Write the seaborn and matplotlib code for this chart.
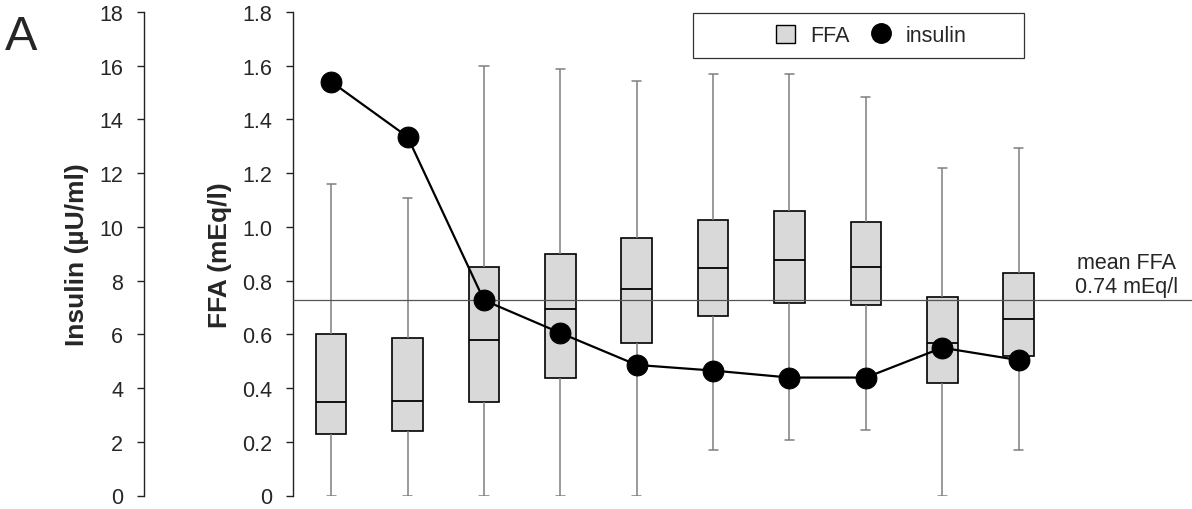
import numpy as np
import pandas as pd
import matplotlib
matplotlib.use('Agg')
import matplotlib.pyplot as plt
import seaborn as sns
from matplotlib.lines import Line2D
from matplotlib.patches import Patch, Rectangle

# values
groups = list(range(1, 11))
ffa_low = [0.0, 0.0, 0.0, 0.0, 0.0, 0.169, 0.208, 0.242, 0.0, 0.169]
ffa_q1 = [0.230, 0.239, 0.348, 0.439, 0.568, 0.669, 0.717, 0.709, 0.418, 0.519]
ffa_med = [0.348, 0.353, 0.579, 0.693, 0.768, 0.848, 0.878, 0.852, 0.568, 0.658]
ffa_q3 = [0.600, 0.586, 0.849, 0.898, 0.959, 1.027, 1.058, 1.018, 0.740, 0.827]
ffa_high = [1.161, 1.107, 1.599, 1.588, 1.542, 1.568, 1.568, 1.482, 1.218, 1.293]
insulin = [15.40, 13.35, 7.27, 6.05, 4.86, 4.65, 4.39, 4.39, 5.50, 5.04]
mean_ffa = 0.727

ffa_ticks = [0, 0.2, 0.4, 0.6, 0.8, 1.0, 1.2, 1.4, 1.6, 1.8]
ffa_ticklabels = ['0', '0.2', '0.4', '0.6', '0.8', '1.0', '1.2', '1.4', '1.6', '1.8']
ins_ticks = [0, 2, 4, 6, 8, 10, 12, 14, 16, 18]

# five-number summary per group -> long table for seaborn
rows = []
for g, lo, a, m, b, hi in zip(groups, ffa_low, ffa_q1, ffa_med, ffa_q3, ffa_high):
    for v in (lo, a, m, b, hi):
        rows.append({'group': g, 'FFA': v})
df = pd.DataFrame(rows)

sns.set_theme(style='white')
plt.rcParams['font.family'] = ['Liberation Sans', 'DejaVu Sans']

fig = plt.figure(figsize=(11.92, 5.10), dpi=100)
ax = fig.add_axes([293 / 1192, 1 - 496.5 / 510, 1 - 293 / 1192, 483.6 / 510])

sns.boxplot(data=df, x='group', y='FFA', ax=ax, whis=np.inf, width=0.4,
            color='#d9d9d9', saturation=1, linecolor='black', linewidth=1.2,
            showfliers=False, capwidths=0.12,
            whiskerprops=dict(color='#7f7f7f', linewidth=1.1),
            capprops=dict(color='#7f7f7f', linewidth=1.1),
            medianprops=dict(color='black', linewidth=1.3))

ax.set_xlim(-0.5, 11.27)
ax.set_ylim(0, 1.8)
ax.axhline(mean_ffa, color='#555555', lw=0.9, zorder=5)
ax.set_yticks(ffa_ticks)
ax.set_yticklabels(ffa_ticklabels)
ax.set_xticks([])
ax.set_xlabel('')
ax.set_ylabel('FFA (mEq/l)', fontsize=19, fontweight='bold', labelpad=7)
for s in ['top', 'right', 'bottom']:
    ax.spines[s].set_visible(False)
ax.spines['left'].set_color('#222222')
ax.spines['left'].set_linewidth(1.0)
ax.tick_params(axis='y', which='both', left=True, direction='out', length=5,
               width=1.0, color='#222222', pad=10, labelsize=15.5)

ax.text(10.41, mean_ffa + 0.012, 'mean FFA\n0.74 mEq/l', ha='center',
        va='bottom', fontsize=15.5, linespacing=1.2)

# insulin on a second y axis, moved out to the left
ax2 = ax.twinx()
pos = np.arange(len(groups))
sns.lineplot(x=pos, y=insulin, ax=ax2, color='black', lw=1.6, marker='o',
             markersize=15, markeredgecolor='black', zorder=6)
ax2.set_ylim(0, 18)
ax2.set_yticks(ins_ticks)
ax2.yaxis.set_ticks_position('left')
ax2.yaxis.set_label_position('left')
ax2.spines['left'].set_visible(True)
ax2.spines['left'].set_position(('outward', 149 * 0.72))
ax2.spines['left'].set_color('#222222')
ax2.spines['left'].set_linewidth(1.0)
for s in ['top', 'right', 'bottom']:
    ax2.spines[s].set_visible(False)
ax2.tick_params(axis='y', which='both', left=True, right=False, direction='out',
                length=5, width=1.0, color='#222222', pad=10, labelsize=15.5,
                labelleft=True, labelright=False)
ax2.set_ylabel('Insulin (µU/ml)', fontsize=19, fontweight='bold', labelpad=7)

# legend in a plain box
fig.add_artist(Rectangle((692.7 / 1192, 1 - 59.3 / 510), 331.3 / 1192, 45.3 / 510,
                         transform=fig.transFigure, facecolor='white',
                         edgecolor='#333333', lw=0.9, zorder=3))
handles = [Patch(facecolor='#d9d9d9', edgecolor='black', linewidth=1.0),
           Line2D([], [], color='black', marker='o', markersize=14, linestyle='none')]
leg = fig.legend(handles, ['FFA', 'insulin'], loc='center', ncol=2,
                 bbox_to_anchor=(871 / 1192, 1 - 36.7 / 510), frameon=False,
                 fontsize=15.5, handlelength=0.9, handleheight=0.9,
                 handletextpad=0.7, columnspacing=1.0)
leg.set_zorder(4)

fig.text(5 / 1192, 1 - 50 / 510, 'A', fontsize=35, ha='left', va='baseline')

fig.savefig('out.png', dpi=100)
